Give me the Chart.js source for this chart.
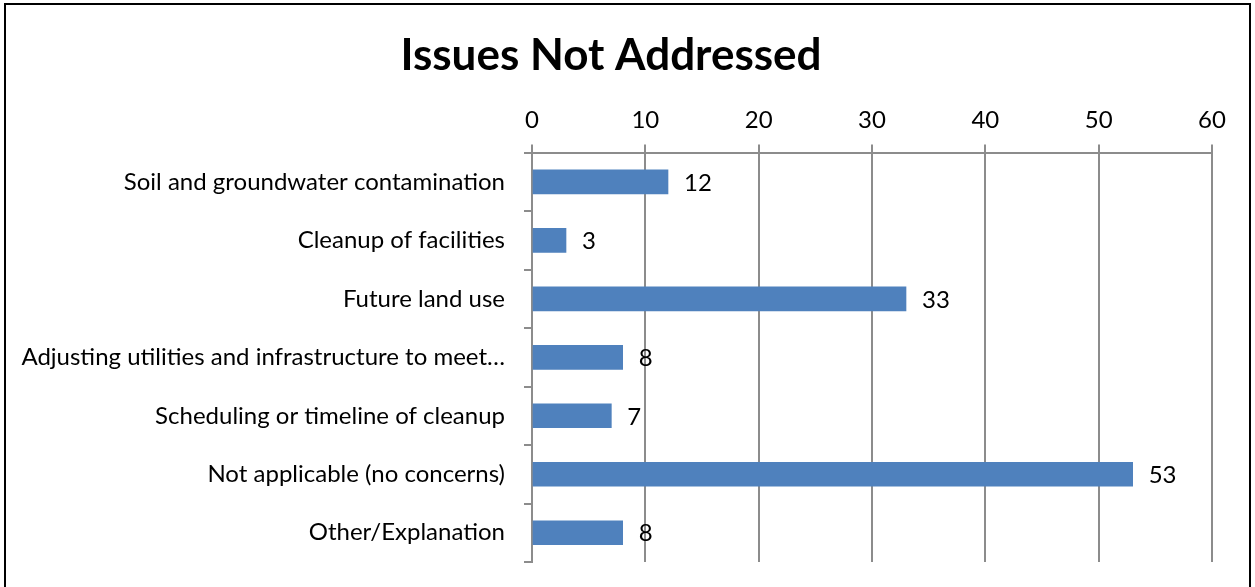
<!DOCTYPE html>
<html lang="en">
<head>
  <meta charset="UTF-8">
  <title>Issues Not Addressed</title>
  <script src="https://cdn.jsdelivr.net/npm/chart.js"></script>
  <style>
    body { margin: 0; background: #fff; }
  </style>
</head>
<body>
  <canvas id="issuesChart" width="1255" height="587"></canvas>
  <script>
    const categories = [
      'Soil and groundwater contamination',
      'Cleanup of facilities',
      'Future land use',
      'Adjusting utilities and infrastructure to meet\u2026',
      'Scheduling or timeline of cleanup',
      'Not applicable (no concerns)',
      'Other/Explanation'
    ];
    const counts = [12, 3, 33, 8, 7, 53, 8];
    const axisMin = 0;
    const axisMax = 60;
    const axisStep = 10;

    const fontFamily = 'Lato, "Open Sans", sans-serif';

    // value labels to the right of each bar
    const valueLabels = {
      id: 'valueLabels',
      afterDatasetsDraw(chart) {
        const ctx = chart.ctx;
        const meta = chart.getDatasetMeta(0);
        ctx.save();
        ctx.font = '24px ' + fontFamily;
        ctx.fillStyle = '#000';
        ctx.textAlign = 'left';
        ctx.textBaseline = 'middle';
        meta.data.forEach((bar, i) => {
          ctx.fillText(String(counts[i]), bar.x + 16, bar.y + 1);
        });
        ctx.restore();
      }
    };

    // outer frame of the chart
    const frame = {
      id: 'frame',
      beforeDraw(chart) {
        const ctx = chart.ctx;
        ctx.save();
        ctx.strokeStyle = '#000';
        ctx.lineWidth = 2;
        ctx.strokeRect(5, 4, 1245, 640);
        ctx.restore();
      }
    };

    const ctx = document.getElementById('issuesChart').getContext('2d');
    new Chart(ctx, {
      type: 'bar',
      data: {
        labels: categories,
        datasets: [{
          data: counts,
          backgroundColor: '#4F81BD',
          borderWidth: 0,
          barThickness: 24
        }]
      },
      options: {
        indexAxis: 'y',
        responsive: false,
        animation: false,
        layout: { padding: { left: 10, right: 43, top: 19, bottom: 25 } },
        plugins: {
          legend: { display: false },
          tooltip: { enabled: false },
          title: {
            display: true,
            text: 'Issues Not Addressed',
            color: '#000',
            font: { family: fontFamily, size: 44, weight: 'bold' },
            padding: { top: 10, bottom: 14 }
          }
        },
        scales: {
          x: {
            position: 'top',
            min: axisMin,
            max: axisMax,
            ticks: {
              stepSize: axisStep,
              color: '#000',
              padding: 10,
              font: { family: fontFamily, size: 24 }
            },
            grid: { color: '#8C8C8C', lineWidth: 2, tickLength: 8 },
            border: { color: '#8C8C8C', width: 2 }
          },
          y: {
            ticks: {
              color: '#000',
              padding: 19,
              font: { family: fontFamily, size: 24 }
            },
            grid: { offset: true, drawOnChartArea: false, color: '#8C8C8C', lineWidth: 2, tickLength: 8 },
            border: { color: '#8C8C8C', width: 2 },
            afterFit(scale) {
              scale.width = 522;
              scale.paddingTop = 0;
              scale.paddingBottom = 0;
            }
          }
        }
      },
      plugins: [frame, valueLabels]
    });
  </script>
</body>
</html>
